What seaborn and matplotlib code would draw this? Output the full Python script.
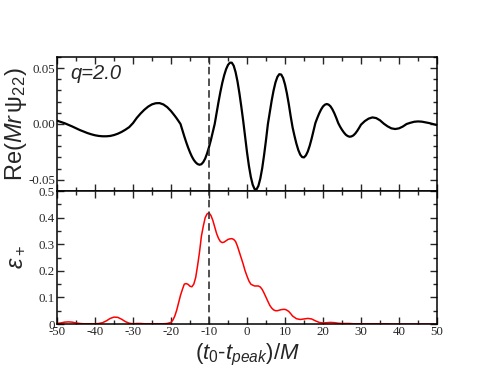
import matplotlib
matplotlib.use('Agg')
import matplotlib.pyplot as plt
from matplotlib.ticker import MultipleLocator, FixedFormatter, FixedLocator
import seaborn as sns
import pandas as pd
import numpy as np

# Re(M r psi_22): every 1 M on the tails, every 0.5 M through the merger
t_wave = list(range(-50, -19)) + [v / 2 for v in range(-39, 61)] + list(range(31, 51))
re_psi = [
    # -50 .. -20
    0.0030, 0.0019, 0.0007, -0.0007, -0.0022, -0.0038, -0.0054, -0.0068, -0.0081, -0.0092,
    -0.0101, -0.0107, -0.0110, -0.0110, -0.0107, -0.0099, -0.0087, -0.0071, -0.0051, -0.0028,
    0.0008, 0.0055, 0.0094, 0.0128, 0.0156, 0.0176, 0.0186, 0.0187, 0.0175, 0.0151,
    0.0116,
    # -19.5 .. 30
    0.0095, 0.0073, 0.0050, 0.0025, 0.0000,
    -0.0056, -0.0111, -0.0163, -0.0211, -0.0254, -0.0292, -0.0322, -0.0344, -0.0359, -0.0365,
    -0.0360, -0.0341, -0.0309, -0.0263, -0.0207, -0.0143, -0.0073, 0.0000,
    0.0100, 0.0197, 0.0288, 0.0369, 0.0437, 0.0491, 0.0529, 0.0549,
    0.0549, 0.0522, 0.0464, 0.0381, 0.0276, 0.0156, 0.0028, -0.0115,
    -0.0252, -0.0374, -0.0473, -0.0544, -0.0583, -0.0586,
    -0.0554, -0.0489, -0.0396, -0.0277, -0.0144, 0.0000,
    0.0108, 0.0211, 0.0301, 0.0373, 0.0422, 0.0446, 0.0443,
    0.0412, 0.0354, 0.0274, 0.0177, 0.0068, -0.0031,
    -0.0107, -0.0176, -0.0233, -0.0274, -0.0296, -0.0299,
    -0.0281, -0.0246, -0.0195, -0.0132, -0.0060, 0.0009,
    0.0054, 0.0095, 0.0130, 0.0157, 0.0173, 0.0179,
    0.0173, 0.0157, 0.0130, 0.0095, 0.0054, 0.0009,
    -0.0024, -0.0052, -0.0076, -0.0096, -0.0108, -0.0114,
    -0.0111, -0.0102, -0.0085, -0.0062, -0.0035, -0.0006,
    # 31 .. 50
    0.0026, 0.0048, 0.0059, 0.0053, 0.0033, 0.0003, -0.0021, -0.0039, -0.0045, -0.0039,
    -0.0023, 0.0000, 0.0011, 0.0020, 0.0023, 0.0021, 0.0015, 0.0008, -0.0001, -0.0010,
]

# epsilon_+: every 1 M on the tails, every 0.5 M around the peak
t_eps = list(range(-50, -19)) + [v / 2 for v in range(-39, 25)] + list(range(13, 51))
eps_plus = [
    # -50 .. -20
    0.002, 0.004, 0.007, 0.008, 0.007, 0.004, 0.002, 0.001, 0.001, 0.001,
    0.001, 0.002, 0.005, 0.012, 0.021, 0.026, 0.025, 0.018, 0.009, 0.003,
    0.001, 0.002, 0.002, 0.001, 0.001, 0.001, 0.001, 0.001, 0.001, 0.002,
    0.006,
    # -19.5 .. 12
    0.015, 0.030, 0.052, 0.080, 0.108, 0.130, 0.150, 0.152, 0.149, 0.142,
    0.140, 0.150, 0.175, 0.220, 0.270, 0.330, 0.368, 0.400, 0.414, 0.418,
    0.408, 0.390, 0.365, 0.340, 0.322, 0.310, 0.306, 0.308, 0.313, 0.318,
    0.320, 0.321, 0.318, 0.310, 0.292, 0.270, 0.248, 0.225, 0.200, 0.180,
    0.162, 0.150, 0.146, 0.143, 0.143, 0.143, 0.139, 0.130, 0.116, 0.100,
    0.085, 0.070, 0.060, 0.053, 0.050, 0.050, 0.052, 0.054, 0.055, 0.055,
    0.052, 0.047, 0.039, 0.030,
    # 13 .. 50
    0.020, 0.017, 0.019, 0.021, 0.019, 0.012, 0.006, 0.004, 0.005, 0.006,
    0.005, 0.003, 0.002, 0.002, 0.002, 0.001, 0.001, 0.001, 0.001, 0.001,
    0.001, 0.001, 0.001, 0.001, 0.001, 0.000, 0.000, 0.000, 0.000, 0.000,
    0.000, 0.000, 0.000, 0.000, 0.000, 0.000, 0.000, 0.000,
]

top_yticks = [-0.05, 0.0, 0.05]
top_ylabels = ['-0.05', '0.00', '0.05']
bot_yticks = [0, 0.1, 0.2, 0.3, 0.4, 0.5]
bot_ylabels = ['0', '0.1', '0.2', '0.3', '0.4', '0.5']
xticks = list(range(-50, 51, 10))
t_line = -10

df_wave = pd.DataFrame({'t': t_wave, 'y': re_psi})
df_eps = pd.DataFrame({'t': t_eps, 'y': eps_plus})

sns.set_style('ticks')
plt.rcParams['font.family'] = ['Liberation Sans', 'DejaVu Sans']
plt.rcParams['mathtext.fontset'] = 'custom'
plt.rcParams['mathtext.rm'] = 'Liberation Sans'
plt.rcParams['mathtext.it'] = 'Liberation Sans:italic'
plt.rcParams['mathtext.bf'] = 'Liberation Sans:bold'

fig = plt.figure(figsize=(4.94, 3.82), dpi=100)
ax1 = fig.add_axes([0.1154, 0.5, 0.7692, 0.3508])
ax2 = fig.add_axes([0.1154, 0.1518, 0.7692, 0.3482], sharex=ax1)

sns.lineplot(data=df_wave, x='t', y='y', ax=ax1, color='black', lw=1.6)
sns.lineplot(data=df_eps, x='t', y='y', ax=ax2, color='red', lw=1.1)

for ax in (ax1, ax2):
    ax.axvline(t_line, color='#333333', lw=1.2, ls=(0, (4.5, 2.5)))
    ax.set_xlim(-50, 50)
    ax.xaxis.set_major_locator(FixedLocator(xticks))
    ax.xaxis.set_minor_locator(MultipleLocator(5))
    ax.tick_params(which='both', direction='in', top=True, right=True, width=1.0)
    ax.tick_params(which='major', length=5)
    ax.tick_params(which='minor', length=3)
    for s in ax.spines.values():
        s.set_linewidth(1.1)
        s.set_color('black')
    ax.set_xlabel('')

ax1.set_ylim(-0.06, 0.06)
ax1.yaxis.set_major_locator(FixedLocator(top_yticks))
ax1.yaxis.set_major_formatter(FixedFormatter(top_ylabels))
ax1.yaxis.set_minor_locator(MultipleLocator(0.01))
ax1.tick_params(axis='x', labelbottom=False)
ax1.set_ylabel(r'Re($\mathit{Mr}\,\mathrm{\psi}_{22}$)', fontsize=17, labelpad=-1)
ax1.text(-46.5, 0.045, 'q=2.0', fontsize=14.5, style='italic', va='center')

ax2.set_ylim(0, 0.5)
ax2.yaxis.set_major_locator(FixedLocator(bot_yticks))
ax2.yaxis.set_major_formatter(FixedFormatter(bot_ylabels))
ax2.yaxis.set_minor_locator(MultipleLocator(0.05))
ax2.set_xticks(xticks)
ax2.set_xticklabels([str(v) for v in xticks])
ax2.set_ylabel(r'$\varepsilon_+$', fontsize=17, labelpad=8)
ax2.set_xlabel(r'$(t_0$-$t_{peak})/M$', fontsize=16, labelpad=3)

for ax in (ax1, ax2):
    for lab in ax.get_xticklabels() + ax.get_yticklabels():
        lab.set_family('Liberation Serif')
        lab.set_fontsize(9.3)
    ax.tick_params(axis='both', pad=1.5)

fig.savefig('out.png', dpi=100)
